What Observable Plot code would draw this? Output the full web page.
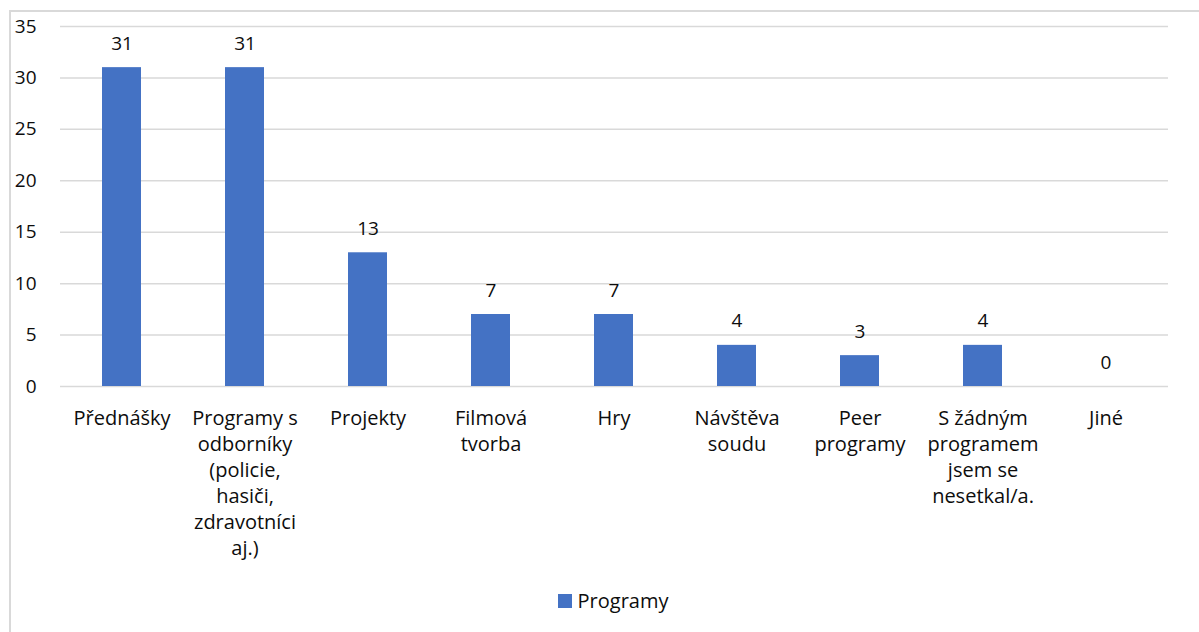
<!DOCTYPE html>
<html>
<head>
<meta charset="utf-8">
<script src="https://cdn.jsdelivr.net/npm/d3@7"></script>
<script src="https://cdn.jsdelivr.net/npm/@observablehq/plot@0.6"></script>
<style>
  html, body { margin: 0; padding: 0; background: #fff; overflow: hidden; }
  body { width: 1199px; height: 632px; position: relative; font-family: "Open Sans", sans-serif; }
  #frame { position: absolute; left: 9px; top: 10px; width: 1300px; height: 800px; border: 2px solid #d9d9d9; box-sizing: border-box; }
  #chart { position: absolute; left: 0; top: 0; }
  #legend { position: absolute; left: 0; top: 587px; width: 1226px; display: flex; justify-content: center; align-items: center; font-size: 20px; color: #0d0d0d; }
  #legend .sw { width: 14px; height: 14px; background: #4472c4; margin-right: 6px; }
</style>
</head>
<body>
<div id="frame"></div>
<div id="chart"></div>
<div id="legend"><span class="sw"></span><span>Programy</span></div>
<script>
const categories = ["Přednášky", "Programy s odborníky (policie, hasiči, zdravotníci aj.)", "Projekty", "Filmová tvorba", "Hry", "Návštěva soudu", "Peer programy", "S žádným programem jsem se nesetkal/a.", "Jiné"];
const tickLabels = ["Přednášky", "Programy s\nodborníky\n(policie,\nhasiči,\nzdravotníci\naj.)", "Projekty", "Filmová\ntvorba", "Hry", "Návštěva\nsoudu", "Peer\nprogramy", "S žádným\nprogramem\njsem se\nnesetkal/a.", "Jiné"];
const values = [31, 31, 13, 7, 7, 4, 3, 4, 0];
const yTicks = [0, 5, 10, 15, 20, 25, 30, 35];

const data = categories.map((c, i) => ({category: c, value: values[i]}));
const labelOf = new Map(categories.map((c, i) => [c, tickLabels[i]]));

const chart = Plot.plot({
  width: 1199,
  height: 580,
  marginLeft: 60,
  marginRight: 31,
  marginTop: 26,
  marginBottom: 194,
  style: {fontFamily: "Open Sans, sans-serif", fontSize: "20px", color: "#0d0d0d", background: "transparent", overflow: "visible"},
  x: {domain: categories, paddingInner: 0.68, paddingOuter: 0.34},
  y: {domain: [0, 35]},
  marks: [
    Plot.ruleY(yTicks, {stroke: "#d9d9d9", strokeWidth: 1.5, strokeOpacity: 1}),
    Plot.barY(data, {x: "category", y: "value", fill: "#4472c4"}),
    Plot.text(data, {x: "category", y: "value", text: d => String(d.value), dy: -24, lineAnchor: "middle", fill: "#0d0d0d", fontSize: 19}),
    Plot.axisY({ticks: yTicks, tickSize: 0, tickPadding: 24, label: null, fontSize: 19, fill: "#0d0d0d"}),
    Plot.axisX({tickSize: 0, tickPadding: 20, label: null, fontSize: 20, lineHeight: 1.3, fill: "#0d0d0d", tickFormat: d => labelOf.get(d)})
  ]
});
document.getElementById("chart").appendChild(chart);
</script>
</body>
</html>
